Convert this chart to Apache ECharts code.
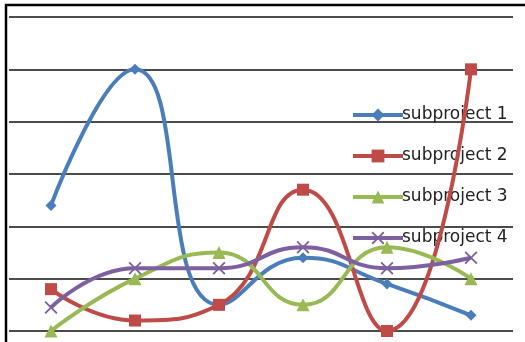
<!DOCTYPE html>
<html>
<head>
<meta charset="utf-8">
<script src="https://cdn.jsdelivr.net/npm/echarts@6/dist/echarts.min.js"></script>
<style>
  html, body { margin: 0; padding: 0; background: #fff; }
  #chart { width: 525px; height: 342px; }
</style>
</head>
<body>
<div id="chart"></div>
<script>
// Stage labels along the horizontal axis (not printed on the chart)
const categories = ['1', '2', '3', '4', '5', '6'];

// Values per subproject
const subproject1 = [2.4, 5.0, 0.5, 1.4, 0.9, 0.3];
const subproject2 = [0.8, 0.2, 0.5, 2.7, 0.0, 5.0];
const subproject3 = [0.0, 1.0, 1.5, 0.5, 1.6, 1.0];
const subproject4 = [0.45, 1.2, 1.2, 1.6, 1.2, 1.4];

const seriesNames = ['subproject 1', 'subproject 2', 'subproject 3', 'subproject 4'];
const seriesData = [subproject1, subproject2, subproject3, subproject4];

const colors = ['#4A7EBB', '#BE4B48', '#98B954', '#7D60A0'];
const crossPath = 'path://M0,1 L1,0 L5,4 L9,0 L10,1 L6,5 L10,9 L9,10 L5,6 L1,10 L0,9 L4,5 Z';
const symbols = ['diamond', 'rect', 'triangle', crossPath];
const symbolSizes = [11, 12, 13, 13];

const chart = echarts.init(document.getElementById('chart'), null, { renderer: 'canvas' });

chart.setOption({
  animation: false,
  color: colors,
  grid: { left: 9, right: 12, top: 17, bottom: 11 },
  legend: {
    orient: 'vertical',
    left: 346,
    top: 100,
    z: 1,
    itemWidth: 50,
    itemHeight: 16,
    itemGap: 21,
    lineStyle: { width: 4 },
    textStyle: {
      fontFamily: 'DejaVu Sans',
      fontSize: 17,
      lineHeight: 20,
      color: '#222',
      padding: [0, 0, 0, -6]
    },
    data: seriesNames
  },
  xAxis: {
    type: 'category',
    data: categories,
    boundaryGap: true,
    axisLine: { show: false },
    axisTick: { show: false },
    axisLabel: { show: false }
  },
  yAxis: {
    type: 'value',
    min: 0,
    max: 6,
    interval: 1,
    axisLine: { show: false },
    axisTick: { show: false },
    axisLabel: { show: false },
    splitLine: { lineStyle: { color: '#111', width: 1.5 } }
  },
  graphic: [{
    type: 'rect',
    shape: { x: 6, y: 5, width: 560, height: 420 },
    style: { fill: 'none', stroke: '#000', lineWidth: 2.5 },
    silent: true,
    z: 100
  }],
  series: seriesNames.map((name, i) => ({
    name: name,
    type: 'line',
    data: seriesData[i],
    smooth: 0.5,
    symbol: symbols[i],
    symbolSize: symbolSizes[i],
    showSymbol: true,
    lineStyle: { width: 4, color: colors[i] },
    itemStyle: { color: colors[i] },
    z: 3
  }))
});
</script>
</body>
</html>
